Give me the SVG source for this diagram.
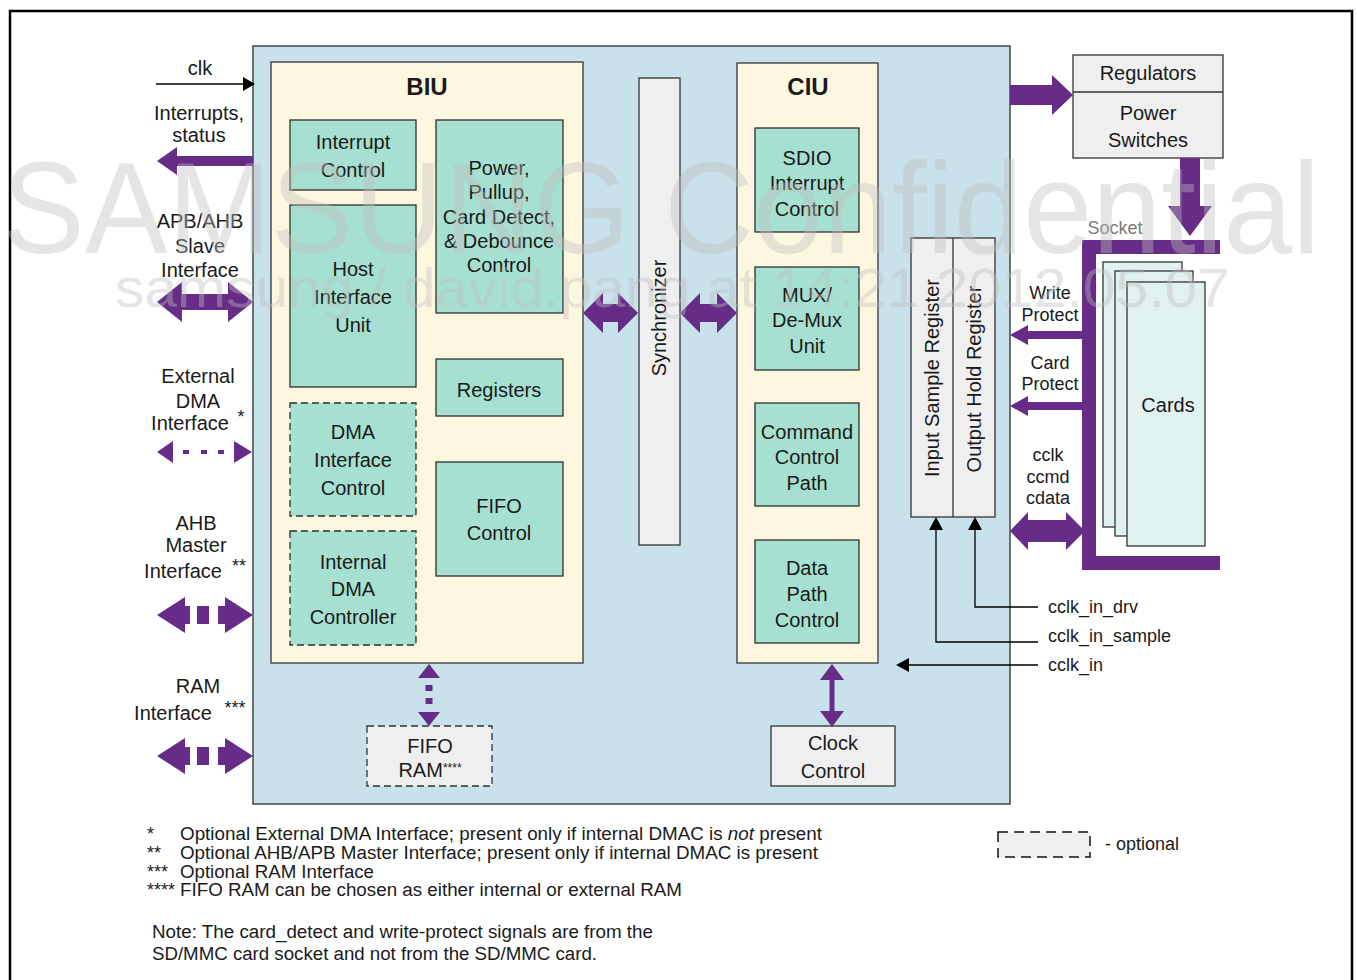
<svg xmlns="http://www.w3.org/2000/svg" width="1357" height="980" viewBox="0 0 1357 980">
<style>
.t{font-family:"Liberation Sans",Arial,sans-serif;font-size:20px;fill:#1a1a1a;text-anchor:middle}
.s{font-size:18px}
.l{text-anchor:start}
.b{font-weight:bold;font-size:24px}
.mint{fill:#a6e0d1;stroke:#2f2f2f;stroke-width:1.3}
.dash{stroke-dasharray:7 4}
.gray{fill:#efefef;stroke:#333;stroke-width:1.3}
.pur{fill:#662c87}
.ln{stroke:#000;stroke-width:1.3;fill:none}
.ah{fill:#000}
.wm{font-family:"Liberation Sans",Arial,sans-serif;fill:#bfbfbf;opacity:0.4}
.ft{font-family:"Liberation Sans",Arial,sans-serif;font-size:18px;fill:#1a1a1a}
</style>
<rect x="0" y="0" width="1357" height="980" fill="#fff"/>
<rect x="10" y="11" width="1342" height="1000" fill="none" stroke="#000" stroke-width="2.5"/>

<g id="core">
<rect x="253" y="46" width="757" height="758" fill="#c9e1ea" stroke="#444" stroke-width="1.5"/>
</g>

<g id="biu">
<rect x="271" y="62" width="312" height="601" fill="#fef7e0" stroke="#333" stroke-width="1.3"/>
<text class="t b" x="427" y="95">BIU</text>
</g>
<g id="interrupt-control">
<rect class="mint" x="290" y="120" width="126" height="70"/>
<text class="t" x="353" y="149">Interrupt</text><text class="t" x="353" y="177">Control</text>
</g>
<g id="host-interface-unit">
<rect class="mint" x="290" y="205" width="126" height="182"/>
<text class="t" x="353" y="276">Host</text><text class="t" x="353" y="304">Interface</text><text class="t" x="353" y="332">Unit</text>
</g>
<g id="power-control">
<rect class="mint" x="436" y="120" width="127" height="193"/>
<text class="t" x="499" y="175">Power,</text><text class="t" x="499" y="199">Pullup,</text><text class="t" x="499" y="224">Card Detect,</text><text class="t" x="499" y="248">&amp; Debounce</text><text class="t" x="499" y="272">Control</text>
</g>
<g id="registers">
<rect class="mint" x="436" y="359" width="127" height="57"/>
<text class="t" x="499" y="397">Registers</text>
</g>
<g id="dma-interface-control">
<rect class="mint dash" x="290" y="403" width="126" height="113"/>
<text class="t" x="353" y="439">DMA</text><text class="t" x="353" y="467">Interface</text><text class="t" x="353" y="495">Control</text>
</g>
<g id="fifo-control">
<rect class="mint" x="436" y="462" width="127" height="114"/>
<text class="t" x="499" y="513">FIFO</text><text class="t" x="499" y="540">Control</text>
</g>
<g id="internal-dma-controller">
<rect class="mint dash" x="290" y="531" width="126" height="114"/>
<text class="t" x="353" y="569">Internal</text><text class="t" x="353" y="596">DMA</text><text class="t" x="353" y="624">Controller</text>
</g>

<g id="synchronizer">
<rect class="gray" x="639" y="78" width="41" height="467"/>
<text class="t" transform="translate(666,318) rotate(-90)">Synchronizer</text>
</g>

<g id="ciu">
<rect x="737" y="63" width="141" height="600" fill="#fef7e0" stroke="#333" stroke-width="1.3"/>
<text class="t b" x="808" y="95">CIU</text>
</g>
<g id="sdio-interrupt-control">
<rect class="mint" x="755" y="128" width="104" height="104"/>
<text class="t" x="807" y="165">SDIO</text><text class="t" x="807" y="190">Interrupt</text><text class="t" x="807" y="216">Control</text>
</g>
<g id="mux-demux">
<rect class="mint" x="755" y="267" width="104" height="103"/>
<text class="t" x="807" y="302">MUX/</text><text class="t" x="807" y="327">De-Mux</text><text class="t" x="807" y="353">Unit</text>
</g>
<g id="command-control-path">
<rect class="mint" x="755" y="403" width="104" height="103"/>
<text class="t" x="807" y="439">Command</text><text class="t" x="807" y="464">Control</text><text class="t" x="807" y="490">Path</text>
</g>
<g id="data-path-control">
<rect class="mint" x="755" y="540" width="104" height="103"/>
<text class="t" x="807" y="575">Data</text><text class="t" x="807" y="601">Path</text><text class="t" x="807" y="627">Control</text>
</g>

<g id="io-registers">
<rect class="gray" x="911" y="238" width="84" height="279"/>
<line x1="953" y1="238" x2="953" y2="517" stroke="#333" stroke-width="1.3"/>
<text class="t" transform="translate(939,378) rotate(-90)">Input Sample Register</text>
<text class="t" transform="translate(981,379) rotate(-90)">Output Hold Register</text>
</g>

<g id="fifo-ram">
<rect class="gray dash" x="367" y="726" width="125" height="60"/>
<text class="t" x="430" y="753">FIFO</text>
<text class="t" x="430" y="777">RAM<tspan font-size="12" dy="-5">****</tspan></text>
</g>
<g id="clock-control">
<rect class="gray" x="771" y="726" width="124" height="60"/>
<text class="t" x="833" y="750">Clock</text><text class="t" x="833" y="778">Control</text>
</g>

<g id="regulators">
<rect class="gray" x="1073" y="55" width="150" height="103"/>
<line x1="1073" y1="92" x2="1223" y2="92" stroke="#333" stroke-width="1.3"/>
<text class="t" x="1148" y="80">Regulators</text>
<text class="t" x="1148" y="120">Power</text><text class="t" x="1148" y="147">Switches</text>
</g>

<g id="socket">
<path class="pur" d="M1082,240 H1220 V254 H1096 V556 H1220 V570 H1082 Z"/>
<text class="t s" x="1115" y="234" style="fill:#7a7a7a">Socket</text>
</g>
<g id="cards">
<rect x="1103" y="262" width="79" height="265" fill="#e0f2ef" stroke="#333" stroke-width="1.3"/>
<rect x="1115" y="271" width="78" height="265" fill="#e0f2ef" stroke="#333" stroke-width="1.3"/>
<rect x="1127" y="282" width="78" height="264" fill="#e0f2ef" stroke="#333" stroke-width="1.3"/>
<text class="t" x="1168" y="412">Cards</text>
</g>

<g id="connectors">
<line class="ln" x1="156" y1="84" x2="244" y2="84"/>
<path class="ah" d="M255,84 L243,77 L243,91 Z"/>
<path class="pur" d="M157,161 L177,147 L177,156 L253,156 L253,166 L177,166 L177,175 Z"/>
<path class="pur" d="M157,302 L182,282 L182,294 L228,294 L228,282 L253,302 L228,322 L228,310 L182,310 L182,322 Z"/>
<path class="pur" d="M157,452 L173,441 L173,463 Z"/>
<rect class="pur" x="183" y="450" width="6" height="4"/>
<rect class="pur" x="201" y="450" width="6" height="4"/>
<rect class="pur" x="218" y="450" width="6" height="4"/>
<path class="pur" d="M252,452 L234,441 L234,463 Z"/>
<path class="pur" d="M157,615 L185,597 L185,606 L190,606 L190,624 L185,624 L185,633 Z"/>
<rect class="pur" x="197" y="606" width="12" height="18"/>
<path class="pur" d="M253,615 L225,597 L225,606 L218,606 L218,624 L225,624 L225,633 Z"/>
<path class="pur" d="M157,756 L185,738 L185,747 L190,747 L190,765 L185,765 L185,774 Z"/>
<rect class="pur" x="197" y="747" width="12" height="18"/>
<path class="pur" d="M253,756 L225,738 L225,747 L218,747 L218,765 L225,765 L225,774 Z"/>
<path class="pur" d="M583,313 L603,293 L603,304 L618,304 L618,293 L638,313 L618,333 L618,322 L603,322 L603,333 Z"/>
<path class="pur" d="M680,313 L700,293 L700,304 L717,304 L717,293 L737,313 L717,333 L717,322 L700,322 L700,333 Z"/>
<path class="pur" d="M429,664 L440,678 L418,678 Z"/>
<rect class="pur" x="425.5" y="685" width="7" height="6"/>
<rect class="pur" x="425.5" y="698" width="7" height="6"/>
<path class="pur" d="M429,726 L440,712 L418,712 Z"/>
<path class="pur" d="M832,664 L844,680 L820,680 Z"/>
<rect class="pur" x="829.5" y="679" width="5" height="33"/>
<path class="pur" d="M832,727 L844,711 L820,711 Z"/>
<path class="pur" d="M1010,85 L1052,85 L1052,75 L1073,95 L1052,115 L1052,105 L1010,105 Z"/>
<path class="pur" d="M1180,158 L1200,158 L1200,206 L1212,206 L1190,236 L1168,206 L1180,206 Z"/>
<path class="pur" d="M1010,335 L1028,325 L1028,331 L1083,331 L1083,339 L1028,339 L1028,345 Z"/>
<path class="pur" d="M1010,406 L1028,396 L1028,402 L1083,402 L1083,410 L1028,410 L1028,416 Z"/>
<path class="pur" d="M1010,531 L1028,512 L1028,520 L1066,520 L1066,512 L1085,531 L1066,550 L1066,542 L1028,542 L1028,550 Z"/>
<polyline class="ln" points="1038,607 975,607 975,528"/>
<path class="ah" d="M975,517 L968,530 L982,530 Z"/>
<polyline class="ln" points="1038,642 936,642 936,528"/>
<path class="ah" d="M936,517 L929,530 L943,530 Z"/>
<line class="ln" x1="1038" y1="665" x2="908" y2="665"/>
<path class="ah" d="M896,665 L909,658 L909,672 Z"/>
</g>

<g id="labels">
<text class="t" x="200" y="75">clk</text>
<text class="t" x="199" y="120">Interrupts,</text><text class="t" x="199" y="142">status</text>
<text class="t" x="200" y="228">APB/AHB</text><text class="t" x="200" y="253">Slave</text><text class="t" x="200" y="277">Interface</text>
<text class="t" x="198" y="383">External</text><text class="t" x="198" y="408">DMA</text><text class="t" x="190" y="430">Interface</text><text class="t s" x="241" y="423">*</text>
<text class="t" x="196" y="530">AHB</text><text class="t" x="196" y="552">Master</text><text class="t" x="183" y="578">Interface</text><text class="t s" x="239" y="572">**</text>
<text class="t" x="198" y="693">RAM</text><text class="t" x="173" y="720">Interface</text><text class="t s" x="235" y="714">***</text>
<text class="t s" x="1050" y="299">Write</text><text class="t s" x="1050" y="321">Protect</text>
<text class="t s" x="1050" y="369">Card</text><text class="t s" x="1050" y="390">Protect</text>
<text class="t s" x="1048" y="461">cclk</text><text class="t s" x="1048" y="483">ccmd</text><text class="t s" x="1048" y="504">cdata</text>
<text class="t s l" x="1048" y="613">cclk_in_drv</text>
<text class="t s l" x="1048" y="642">cclk_in_sample</text>
<text class="t s l" x="1048" y="671">cclk_in</text>
</g>

<g id="footnotes">
<text class="ft" x="147" y="840">*</text>
<text class="ft" x="180" y="840" textLength="642" lengthAdjust="spacingAndGlyphs">Optional External DMA Interface; present only if internal DMAC is <tspan font-style="italic">not</tspan> present</text>
<text class="ft" x="147" y="859">**</text>
<text class="ft" x="180" y="859" textLength="638" lengthAdjust="spacingAndGlyphs">Optional AHB/APB Master Interface; present only if internal DMAC is present</text>
<text class="ft" x="147" y="878" font-size="15">***</text>
<text class="ft" x="180" y="878" textLength="194" lengthAdjust="spacingAndGlyphs">Optional RAM Interface</text>
<text class="ft" x="147" y="896" font-size="14">****</text>
<text class="ft" x="180" y="896" textLength="502" lengthAdjust="spacingAndGlyphs">FIFO RAM can be chosen as either internal or external RAM</text>
<text class="ft" x="152" y="938" textLength="501" lengthAdjust="spacingAndGlyphs">Note: The card_detect and write-protect signals are from the</text>
<text class="ft" x="152" y="960" textLength="445" lengthAdjust="spacingAndGlyphs">SD/MMC card socket and not from the SD/MMC card.</text>
</g>

<g id="legend">
<rect x="998" y="832" width="92" height="25" fill="#efefef" stroke="#111" stroke-width="1.5" stroke-dasharray="10 6"/>
<text class="ft" x="1105" y="850">- optional</text>
</g>

<g id="watermark">
<text class="wm" x="2" y="253" font-size="130" textLength="1318" lengthAdjust="spacingAndGlyphs">SAMSUNG Confidential</text>
<text class="wm" x="115" y="307" font-size="55" textLength="1115" lengthAdjust="spacingAndGlyphs">samsung / david.pang at 14:21 2012.05.07</text>
</g>
</svg>
